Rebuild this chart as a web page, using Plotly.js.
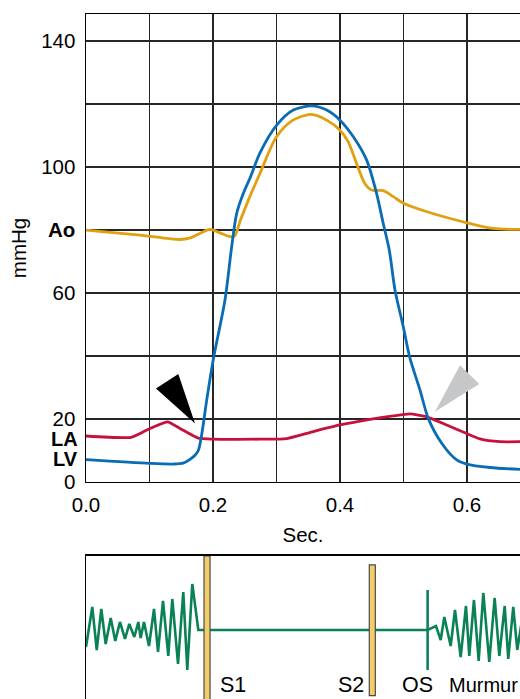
<!DOCTYPE html>
<html><head><meta charset="utf-8">
<script src="https://cdn.plot.ly/plotly-3.0.1.min.js"></script>
<style>html,body{margin:0;padding:0;background:#fff}</style>
</head><body><div id="chart" style="width:520px;height:699px"></div>
<script>
// ---- Pressure curves (time in s, pressure in mmHg) ----
const tAo = [0.0, 0.085, 0.148, 0.164, 0.18, 0.195, 0.211, 0.227, 0.234, 0.243, 0.258, 0.274, 0.300, 0.326, 0.355, 0.379, 0.400, 0.413, 0.426, 0.439, 0.450, 0.468, 0.484, 0.500, 0.537, 0.600, 0.641, 0.684];
const pAo = [80.0, 78.4, 77.0, 77.5, 79.0, 80.2, 79.1, 77.9, 78.1, 83.0, 90.6, 98.0, 109.6, 114.9, 116.7, 114.9, 111.7, 108.0, 101.2, 94.8, 92.7, 92.5, 90.6, 88.5, 85.8, 82.3, 80.5, 80.2];

const tLV = [0.0, 0.1008, 0.1375, 0.153, 0.1638, 0.1717, 0.1769, 0.1822, 0.1901, 0.2005, 0.2189, 0.2294, 0.2373, 0.2477, 0.2583, 0.274, 0.3003, 0.3265, 0.3554, 0.379, 0.400, 0.421, 0.442, 0.4578, 0.4682, 0.4776, 0.4866, 0.4997, 0.5102, 0.526, 0.539, 0.5602, 0.5838, 0.5995, 0.6362, 0.684];
const pLV = [7.1, 5.9, 5.7, 6.0, 7.2, 8.5, 10.0, 15.0, 26.0, 39.0, 57.8, 74.7, 85.3, 91.6, 96.5, 104.5, 113.3, 118.1, 119.4, 118.1, 114.9, 109.6, 102.2, 91.5, 82.0, 73.7, 61.0, 49.3, 39.3, 29.2, 20.2, 12.3, 7.0, 5.7, 4.6, 4.0];

const tLA = [0.0, 0.0708, 0.0958, 0.1282, 0.148, 0.1769, 0.2005, 0.274, 0.3162, 0.358, 0.400, 0.4472, 0.4841, 0.5102, 0.5365, 0.568, 0.5995, 0.6205, 0.652, 0.684];
const pLA = [14.6, 14.2, 16.5, 19.1, 17.0, 13.9, 13.6, 13.6, 13.8, 16.0, 18.1, 19.9, 21.0, 21.6, 20.7, 18.1, 15.4, 13.7, 12.8, 12.8];

// ---- Arrowheads (pointer marks) ----
const blackArrowT = [0.1102, 0.1454, 0.1717, 0.1102];
const blackArrowP = [29.7, 34.3, 18.6, 29.7];
const grayArrowT = [0.589, 0.6194, 0.5496, 0.589];
const grayArrowP = [37.1, 31.1, 22.3, 37.1];

// ---- Phonocardiogram (arbitrary amplitude) ----
const tSound = [0.0, 0.0099, 0.0169, 0.0241, 0.031, 0.0389, 0.0461, 0.0535, 0.0614, 0.0682, 0.0761, 0.0824, 0.0861, 0.0913, 0.0992, 0.1071, 0.1134, 0.1213, 0.1296, 0.1359, 0.1449, 0.1532, 0.1595, 0.1674, 0.1769,
                0.538, 0.5512, 0.5586, 0.5643, 0.5743, 0.5811, 0.5901, 0.5984, 0.6036, 0.611, 0.6184, 0.6257, 0.6351, 0.6436, 0.6509, 0.6594, 0.665, 0.6729, 0.6792, 0.6866];
const aSound = [-17, 23, -20, 21, -14, 12, -11, 8, -9, 6, -7, 8, -8, 8, -16, 21, -22, 29, -26, 31, -34, 38, -40, 46, 0,
                0, 4, -10, 13, -16, 20, -27, 24, -26, 30, -31, 37, -32, 32, -26, 24, -29, 23, -20, 10];
const heartSoundNames = ['S1', 'S2'];
const heartSoundT = [0.1906, 0.4509];
const heartSoundBase = [-75, -65.7];
const heartSoundHeight = [149, 130.7];
const osT = [0.538, 0.538];
const osA = [-40, 40];
const soundLabels = ['S1', 'S2', 'OS', 'Murmur'];
const soundLabelT = [0.2084, 0.417, 0.5213, 0.5690];
const soundLabelAnchor = ['left', 'center', 'center', 'left'];
const soundLabelSize = [21.5, 21.5, 21.5, 20];

// ---- Axes ticks ----
const xGridVals = [0, 0.1, 0.2, 0.3, 0.4, 0.5, 0.6];
const xTickText = ['0.0', '', '0.2', '', '0.4', '', '0.6'];
const yGridVals = [0, 20, 40, 60, 80, 100, 120, 140];
const yTickText = ['0', '20', '', '60', '<b>Ao</b>', '100', '', '140'];
const extraYLabels = ['<b>LA</b>', '<b>LV</b>'];
const extraYVals = [13.8, 7.4];

const FONT = 'Liberation Sans, Arial, Helvetica, sans-serif';
const GRID = '#262626';
const X_RANGE = [0, 0.6835];

const traces = [
  {x: tAo, y: pAo, xaxis: 'x', yaxis: 'y', mode: 'lines', line: {color: '#e0a010', width: 2.8, shape: 'spline', smoothing: 0.8}, hoverinfo: 'skip'},
  {x: tLA, y: pLA, xaxis: 'x', yaxis: 'y', mode: 'lines', line: {color: '#c8103c', width: 2.8, shape: 'spline', smoothing: 0.5}, hoverinfo: 'skip'},
  {x: tLV, y: pLV, xaxis: 'x', yaxis: 'y', mode: 'lines', line: {color: '#0a6cb4', width: 2.8, shape: 'spline', smoothing: 0.8}, hoverinfo: 'skip'},
  {x: blackArrowT, y: blackArrowP, xaxis: 'x', yaxis: 'y', mode: 'lines', fill: 'toself', fillcolor: '#000', line: {width: 0, color: '#000'}, hoverinfo: 'skip'},
  {x: grayArrowT, y: grayArrowP, xaxis: 'x', yaxis: 'y', mode: 'lines', fill: 'toself', fillcolor: '#c6c7c9', line: {width: 0, color: '#c6c7c9'}, hoverinfo: 'skip'},
  {x: tSound, y: aSound, xaxis: 'x2', yaxis: 'y2', mode: 'lines', line: {color: '#0a8255', width: 2.6}, hoverinfo: 'skip'},
  {x: osT, y: osA, xaxis: 'x2', yaxis: 'y2', mode: 'lines', line: {color: '#0a8255', width: 2.6}, hoverinfo: 'skip'},
  {type: 'bar', x: heartSoundT, y: heartSoundHeight, base: heartSoundBase, text: heartSoundNames, textposition: 'none', width: 0.0095, xaxis: 'x3', yaxis: 'y3',
   marker: {color: '#f3cd6c', line: {color: '#4a4a4a', width: 1.2}}, hoverinfo: 'skip'}
];

const annotations = [];
extraYLabels.forEach((lab, i) => annotations.push({
  xref: 'paper', yref: 'y', x: 0, y: extraYVals[i], text: lab, showarrow: false,
  xanchor: 'right', yanchor: 'middle', xshift: -6, font: {family: FONT, size: 20, color: '#000'}
}));
soundLabels.forEach((lab, i) => annotations.push({
  xref: 'x2', yref: 'y2', x: soundLabelT[i], y: -55, text: lab, showarrow: false,
  xanchor: soundLabelAnchor[i], yanchor: 'middle', font: {family: FONT, size: soundLabelSize[i], color: '#000'}
}));

const layout = {
  width: 520, height: 699,
  margin: {l: 86, r: 0, t: 14, b: 0},
  paper_bgcolor: '#fff', plot_bgcolor: 'rgba(0,0,0,0)',
  showlegend: false,
  font: {family: FONT, size: 20.5, color: '#000'},
  xaxis: {domain: [0, 1], anchor: 'y', range: X_RANGE, tickmode: 'array', tickvals: xGridVals, ticktext: xTickText,
          showgrid: true, gridcolor: GRID, gridwidth: 1.5, zeroline: false, ticks: '', ticklabelstandoff: 4,
          showline: true, linecolor: '#000', linewidth: 1.5, mirror: true,
          title: {text: 'Sec.', font: {family: FONT, size: 20.5}, standoff: 12}, automargin: false, fixedrange: true},
  yaxis: {domain: [0.3168, 1], anchor: 'x', range: [0, 148.6], tickmode: 'array', tickvals: yGridVals, ticktext: yTickText,
          showgrid: true, gridcolor: GRID, gridwidth: 1.5, zeroline: false, ticks: '', ticklabelstandoff: 5,
          showline: true, linecolor: '#000', linewidth: 1.5,
          title: {text: 'mmHg', font: {family: FONT, size: 20.5}, standoff: 9}, automargin: false, fixedrange: true},
  xaxis2: {domain: [0, 1], anchor: 'y2', range: X_RANGE, showgrid: false, showticklabels: false, zeroline: false, ticks: '',
           showline: true, side: 'top', linecolor: '#000', linewidth: 1.5, fixedrange: true},
  yaxis2: {domain: [0, 0.2088], anchor: 'x2', range: [-69, 74], showgrid: false, showticklabels: false, zeroline: false, ticks: '',
           showline: true, linecolor: '#000', linewidth: 1.5, fixedrange: true},
  xaxis3: {overlaying: 'x2', anchor: 'y3', range: X_RANGE, visible: false, fixedrange: true},
  yaxis3: {overlaying: 'y2', anchor: 'x3', range: [-69, 74], visible: false, fixedrange: true},
  annotations: annotations
};

Plotly.newPlot('chart', traces, layout, {staticPlot: true, displayModeBar: false});
</script></body></html>
